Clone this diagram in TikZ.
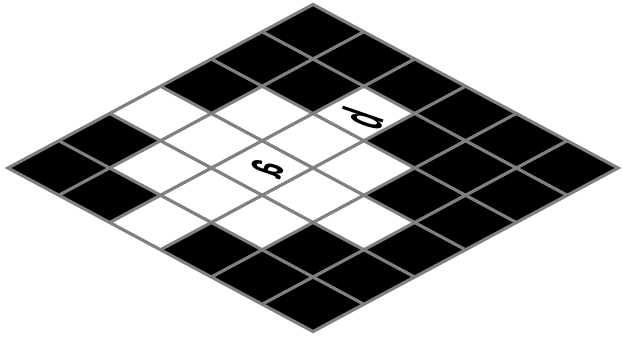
\documentclass[tikz,border=0pt]{standalone}
\usepackage{graphicx}
\usepackage{fontspec}
\setsansfont{Liberation Sans}
\newcommand{\isoletter}[1]{\rotatebox{251}{\scalebox{0.56}[-1.4]{#1}}}
\begin{document}
\begin{tikzpicture}[
  x=0.03cm, y=-0.03cm,
  gridline/.style={draw=gray, line width=0.095cm, line join=miter},
  letter/.style={font=\sffamily\bfseries\fontsize{36}{36}\selectfont, inner sep=0pt}
]
\useasboundingbox (0,0) rectangle (622,339);
\begin{scope}[shift={(8,168)}, x={(1.525cm,0.8175cm)}, y={(1.525cm,-0.8175cm)}]
  % board
  \fill[black] (0,0) -- (6,0) -- (6,6) -- (0,6) -- cycle;
  \foreach \i/\j in {2/0, 1/1, 2/1, 3/1, 0/2, 1/2, 2/2, 3/2, 4/2, 1/3, 2/3, 3/3, 2/4}
    \fill[white] (\i,\j) -- ++(1,0) -- ++(0,1) -- ++(-1,0) -- cycle;
  % grid
  \foreach \k in {1,...,5} {
    \draw[gridline] (\k,0) -- (\k,6);
    \draw[gridline] (0,\k) -- (6,\k);
  }
  \draw[gridline] (0,0) -- (6,0) -- (6,6) -- (0,6) -- cycle;
\end{scope}
% labels
\node[letter] (a) at (267.5,169) {\isoletter{a}};
\node[letter] (b) at (362.5,118) {\isoletter{b}};
\end{tikzpicture}
\end{document}
